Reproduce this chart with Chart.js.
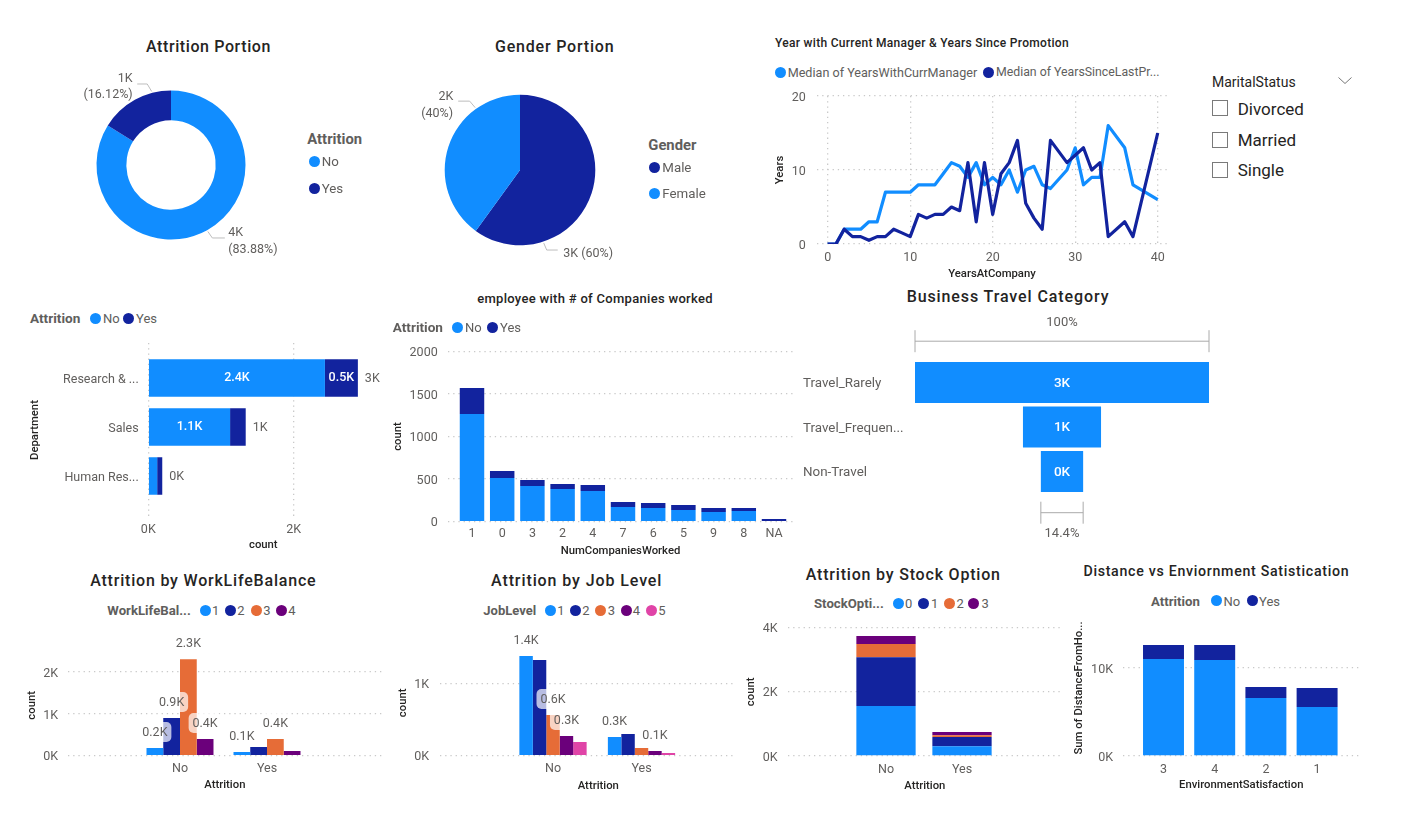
<!DOCTYPE html>
<html>
<head>
<meta charset="utf-8">
<script src="https://cdn.jsdelivr.net/npm/chart.js@4"></script>
<style>
html,body{margin:0;padding:0;background:#fff;width:1416px;height:817px;overflow:hidden}
canvas{position:absolute}
.t{position:absolute;white-space:nowrap;line-height:1}
.dot{position:absolute;width:11px;height:11px;border-radius:50%}
.box{position:absolute;width:16px;height:16px;border:1px solid #7a7a7a;box-sizing:border-box}
</style>
</head>
<body>
<script>
// ---------- data ----------
const attritionLabels = ['No', 'Yes'];
const attritionCounts = [3699, 711];
const genderLabels = ['Male', 'Female'];
const genderCounts = [2646, 1764];

const yearsAtCompany = [0,1,2,3,4,5,6,7,8,9,10,11,12,13,14,15,16,17,18,19,20,21,22,23,24,25,26,27,29,30,31,32,33,34,36,37,40];
const yearsWithManager = [0,0,2,2,2,3,3,7,7,7,7,8,8,8,9.5,11,10.5,9,11,8,9,8,10,7,10,10.5,8,7.5,10,13,8,9,9,16,13,8,6];
const yearsSincePromotion = [0,0,2,1,1,0.5,1,1,2,1.5,1,4,3.5,4,4,5,4.5,11,3,11,4,9.5,11,14,5.5,3.5,2,14,11,12,13,10,11,1,3,1,15];

const departments = ['Research & ...', 'Sales', 'Human Res...'];
const deptNo = [2430, 1125, 122];
const deptYes = [453, 215, 70];

const companiesWorked = ['1','0','3','2','4','7','6','5','9','8','NA'];
const companiesNo = [1264, 513, 419, 384, 360, 172, 160, 137, 113, 125, 8];
const companiesYes = [305, 82, 70, 58, 70, 59, 59, 59, 47, 35, 23];

const travelLabels = ['Travel_Rarely', 'Travel_Frequen...', 'Non-Travel'];
const travelCounts = [3129, 831, 450];

const attritionAxis = ['No', 'Yes'];
const wlbKeys = ['1','2','3','4'];
const wlb1 = [183, 88];
const wlb2 = [900, 207];
const wlb3 = [2310, 398];
const wlb4 = [398, 112];

const jobKeys = ['1','2','3','4','5'];
const job1 = [1384, 259];
const job2 = [1329, 301];
const job3 = [565, 106];
const job4 = [273, 65];
const job5 = [190, 37];

const stockKeys = ['0','1','2','3'];
const stock0 = [1560, 305];
const stock1 = [1515, 285];
const stock2 = [415, 60];
const stock3 = [250, 95];

const satisfaction = ['3','4','2','1'];
const distanceNo = [11023, 10909, 6591, 5568];
const distanceYes = [1591, 1705, 1250, 2159];

const maritalStatus = ['Divorced', 'Married', 'Single'];

// ---------- style ----------
const C = {blue:'#118DFF', navy:'#12239E', orange:'#E66C37', purple:'#6B007B', pink:'#E044A7'};
const BODY = 'Roboto, sans-serif';
const HEAD = 'Roboto, sans-serif';
const GREY = '#605E5C', DARK = '#252423', GRID = '#c9c9c9';
Chart.defaults.font.family = BODY;
Chart.defaults.font.size = 12.5;
Chart.defaults.color = GREY;
Chart.defaults.animation = false;
Chart.defaults.responsive = false;
Chart.defaults.plugins.legend.display = false;
Chart.defaults.plugins.tooltip.enabled = false;

const kTick = v => (v / 1000) + 'K';
const kOne = v => (v / 1000).toFixed(1) + 'K';
const kRound = v => Math.round(v / 1000) + 'K';
const sum = a => a.reduce((x, y) => x + y, 0);
const pts = (vals, horizontal) => vals.map((v, i) => horizontal ? {x: v, y: i} : {x: i, y: v});

function txt(s, x, y, o) {
  o = o || {};
  const d = document.createElement('div');
  d.className = 't';
  d.textContent = s;
  const tx = o.align === 'c' ? '-50%' : o.align === 'r' ? '-100%' : '0';
  d.style.cssText = `left:${x}px;top:${y}px;transform:translate(${tx},-50%);font:${o.weight||400} ${o.size||12.5}px ${o.font||BODY};color:${o.color||GREY};letter-spacing:${o.ls||0}px`;
  document.body.appendChild(d);
}
function title(s, x, y, size, ls) { txt(s, x, y, {align:'c', size:size||16, weight:500, font:HEAD, color:DARK, ls:ls===undefined?0.7:ls}); }
function dot(x, y, c) {
  const d = document.createElement('div');
  d.className = 'dot';
  d.style.left = (x - 5.5) + 'px'; d.style.top = (y - 5.5) + 'px'; d.style.background = c;
  document.body.appendChild(d);
}
function legend(name, nameX, y, labels, colors, dotXs, textXs, nameSize) {
  txt(name, nameX, y, {weight:700, font:HEAD, size:nameSize||13.2, color:GREY});
  labels.forEach((l, i) => { dot(dotXs[i], y, colors[i]); txt(l, textXs[i], y, {size:13}); });
}

// Place a canvas so that the plot area and native axis titles land where wanted.
function place(type, datasets, plot, o) {
  const L = Math.floor(o.yTitleX !== undefined ? o.yTitleX - 6.5 : plot.l - (o.leftRoom || 70));
  const B = Math.ceil(o.xTitleY !== undefined ? o.xTitleY + 6.5 : plot.b + (o.bottomRoom || 30));
  const T = Math.floor(plot.t - (o.topRoom || 26));
  const R = Math.ceil(plot.r + (o.rightRoom || 26));
  const cv = document.createElement('canvas');
  cv.width = R - L; cv.height = B - T;
  cv.style.left = L + 'px'; cv.style.top = T + 'px';
  document.body.appendChild(cv);
  const xs = Object.assign({}, o.x), ys = Object.assign({}, o.y);
  if (xs.display !== false) xs.afterFit = s => { s.height = B - plot.b; };
  if (ys.display !== false) ys.afterFit = s => { s.width = plot.l - L; };
  if (ys.ticks) ys.ticks = Object.assign({}, ys.ticks, {labelOffset:1.5});
  return new Chart(cv, {
    type,
    data: {labels: o.labels, datasets},
    options: {
      indexAxis: o.indexAxis || 'x',
      layout: {autoPadding:false, padding:{top: plot.t - T, right: R - plot.r, left: ys.display === false ? plot.l - L : 0, bottom: xs.display === false ? B - plot.b : 0}},
      scales: {x: xs, y: ys}
    },
    plugins: o.plugins || []
  });
}
function grid(on) {
  return on ? {display:true, color:GRID, lineWidth:1.3, drawTicks:false} : {display:false, drawTicks:false};
}
const noBorder = {display:false, dash:[1.3,3.9]};
function axisTitle(t, size) { return t ? {display:true, text:t, color:DARK, padding:0, font:{size:size||11.3, weight:'500', family:HEAD}} : {display:false}; }
// numeric value axis
function valueAxis(min, max, ticks, cb, t, pad, gridOn) {
  return {type:'linear', offset:false, min, max, grid:Object.assign(grid(gridOn!==false),{offset:false}), border:noBorder, title:axisTitle(t),
    afterBuildTicks:s=>{s.ticks=ticks.map(v=>({value:v}));},
    ticks:{padding:pad, callback:cb, autoSkip:false, maxRotation:0, font:{size:12.5}}};
}
// band axis: categories on indexes, centred and spaced to suit the report layout
function bandAxis(names, lo, hi, pitch, first, t, pad, reverse) {
  const min = -(first - lo) / pitch;
  const max = min + (hi - lo) / pitch;
  const ticks = names.map((_, i) => i);
  return {type:'linear', reverse:!!reverse, offset:false, min, max, grid:Object.assign(grid(false),{offset:false}), border:{display:false}, title:axisTitle(t),
    afterBuildTicks:s=>{s.ticks=ticks.map(v=>({value:v}));},
    ticks:{padding:pad, callback:v=>names[v], autoSkip:false, maxRotation:0, font:{size:12.5}}};
}
function bars(vals, color, extra, horizontal) {
  return Object.assign({data:pts(vals, horizontal), backgroundColor:color, borderWidth:0, categoryPercentage:0.8, barPercentage:1}, extra||{});
}

// Labels above grouped columns, on a pale rounded chip like the report's
function aboveLabels(show) {
  return {id:'above', afterDatasetsDraw(c) {
    const g = c.ctx; g.save();
    g.font = '12.5px ' + BODY; g.textAlign = 'center'; g.textBaseline = 'middle';
    Object.keys(show).forEach(k => {
      const meta = c.getDatasetMeta(+k);
      show[k].forEach(i => {
        const e = meta.data[i], v = c.data.datasets[+k].data[i].y, y = e.y - 16;
        g.fillStyle = 'rgba(255,255,255,0.7)';
        g.beginPath(); g.roundRect(e.x - 16.5, y - 10, 33, 20, 5); g.fill();
        g.fillStyle = GREY; g.fillText(kOne(v), e.x, y + 0.5);
      });
    });
    g.restore();
  }};
}
function deptLabels() {
  return {id:'dept', afterDatasetsDraw(c) {
    const g = c.ctx; g.save();
    g.font = '500 12.5px ' + BODY; g.textBaseline = 'middle'; g.textAlign = 'center'; g.fillStyle = '#fff';
    const [a, b] = [c.getDatasetMeta(0), c.getDatasetMeta(1)];
    const put = (e, v) => g.fillText(kOne(v), (e.x + e.base) / 2, e.y);
    put(a.data[0], deptNo[0]); put(a.data[1], deptNo[1]); put(b.data[0], deptYes[0]);
    g.font = '12.5px ' + BODY; g.textAlign = 'left'; g.fillStyle = GREY;
    b.data.forEach((e, i) => g.fillText(kRound(deptNo[i] + deptYes[i]), e.x + 7, e.y + 1));
    g.restore();
  }};
}
function funnelMarks() {
  return {id:'funnel', afterDatasetsDraw(c) {
    const g = c.ctx, xs = c.scales.x, area = c.chartArea, meta = c.getDatasetMeta(0);
    g.save();
    g.font = '500 13.5px ' + BODY; g.textBaseline = 'middle'; g.textAlign = 'center'; g.fillStyle = '#fff';
    meta.data.forEach((e, i) => g.fillText(kRound(travelCounts[i]), (e.x + e.base) / 2, e.y + 1));
    const bracket = (v, y, ty, label) => {
      const a = xs.getPixelForValue(-v / 2), b = xs.getPixelForValue(v / 2);
      g.strokeStyle = '#aaaaaa'; g.lineWidth = 1;
      g.beginPath();
      g.moveTo(a, y); g.lineTo(b, y);
      g.moveTo(a, y - 11); g.lineTo(a, y + 11);
      g.moveTo(b, y - 11); g.lineTo(b, y + 11);
      g.stroke();
      g.fillStyle = GREY; g.font = '13px ' + BODY;
      g.fillText(label, (a + b) / 2, ty);
    };
    const top = travelCounts[0], last = travelCounts[travelCounts.length - 1];
    bracket(top, area.top - 19, area.top - 37, '100%');
    bracket(last, area.bottom + 19, area.bottom + 40, (last / top * 100).toFixed(1) + '%');
    g.restore();
  }};
}
// Leader lines leave the pie at a given angle, then bend and run horizontally
function leaders(list) {
  return {id:'leaders', afterDatasetsDraw(c) {
    const g = c.ctx, e = c.getDatasetMeta(0).data[0];
    g.save(); g.strokeStyle = '#bdbdbd'; g.lineWidth = 1;
    list.forEach(l => {
      const r = (l.deg) * Math.PI / 180, R = e.outerRadius + 1.5;
      const x = e.x + R * Math.sin(r), y = e.y - R * Math.cos(r);
      g.beginPath(); g.moveTo(x, y); g.lineTo(x + l.dx, y + l.dy); g.lineTo(x + l.dx + l.run, y + l.dy); g.stroke();
    });
    g.restore();
  }};
}
function pie(vals, colors, cx, cy, r, cut, lead) {
  const S = 2 * Math.ceil(r + 30), cv = document.createElement('canvas');
  cv.width = S; cv.height = S;
  cv.style.left = Math.round(cx - S / 2) + 'px'; cv.style.top = Math.round(cy - S / 2) + 'px';
  document.body.appendChild(cv);
  new Chart(cv, {type:'doughnut', data:{datasets:[{data:vals, backgroundColor:colors, borderWidth:0}]},
    options:{cutout:cut, radius:r, layout:{padding:0}}, plugins:[leaders(lead)]});
}

// ---------- Attrition Portion ----------
title('Attrition Portion', 208.5, 46, 16, 0.6);
pie(attritionCounts, [C.blue, C.navy], 171, 165, 74.5, '60%', [{deg:-14.7,dx:-4.5,dy:-7.5,run:-10},{deg:151,dx:4.5,dy:6.5,run:12.5}]);
txt(kRound(attritionCounts[1]), 132.7, 76.7, {align:'r'});
txt('(' + (attritionCounts[1] / sum(attritionCounts) * 100).toFixed(2) + '%)', 132.7, 93.3, {align:'r'});
txt(kRound(attritionCounts[0]), 228.3, 231);
txt('(' + (attritionCounts[0] / sum(attritionCounts) * 100).toFixed(2) + '%)', 228.3, 248);
txt('Attrition', 307.3, 139.3, {weight:700, font:HEAD, size:14.8});
dot(314, 161, C.blue); txt(attritionLabels[0], 321.7, 161, {size:13.3});
dot(314, 188.3, C.navy); txt(attritionLabels[1], 321.7, 188.3, {size:13.3});

// ---------- Gender Portion ----------
title('Gender Portion', 554.7, 46, 16, 0.8);
pie(genderCounts, [C.navy, C.blue], 520, 170, 75.3, 0, [{deg:-35.7,dx:-5.5,dy:-6.5,run:-11.5},{deg:162,dx:3,dy:7,run:11}]);
txt(kRound(genderCounts[1]), 453.3, 95, {align:'r'});
txt('(' + Math.round(genderCounts[1] / sum(genderCounts) * 100) + '%)', 453, 112.3, {align:'r'});
txt(kRound(genderCounts[0]) + ' (' + Math.round(genderCounts[0] / sum(genderCounts) * 100) + '%)', 563.3, 251.7);
txt('Gender', 648.3, 145.3, {weight:700, font:HEAD, size:14.8});
dot(654.3, 167.3, C.navy); txt(genderLabels[0], 662.3, 167.3, {size:13.3});
dot(654.3, 193.3, C.blue); txt(genderLabels[1], 662.3, 193.3, {size:13.3});

// ---------- Line chart ----------
txt('Year with Current Manager & Years Since Promotion', 775, 43.3, {weight:500, font:HEAD, size:12, color:DARK, ls:0.3});
dot(780.7, 72.3, C.blue); txt('Median of YearsWithCurrManager', 787.7, 72.3, {size:12.6});
dot(988.7, 72.3, C.navy); txt('Median of YearsSinceLastPr...', 996, 72.3, {size:12.3});
place('line', [
  {data:yearsAtCompany.map((x,i)=>({x, y:yearsSincePromotion[i]})), borderColor:C.navy, borderWidth:3.2, pointRadius:0, tension:0, borderJoinStyle:'round'},
  {data:yearsAtCompany.map((x,i)=>({x, y:yearsWithManager[i]})), borderColor:C.blue, borderWidth:3.2, pointRadius:0, tension:0, borderJoinStyle:'round'}
], {l:816.7, t:96, r:1167.3, b:244}, {yTitleX:780, xTitleY:274,
  x:valueAxis(-1.33, 41.16, [0,10,20,30,40], v=>v, 'YearsAtCompany', 6),
  y:valueAxis(0, 20, [0,10,20], v=>v, 'Years', 11)
});

// ---------- Marital status slicer ----------
txt('MaritalStatus', 1212, 81.7, {size:14, color:'#252423'});
maritalStatus.forEach((m, i) => {
  const y = [108.5, 140, 170][i];
  const b = document.createElement('div'); b.className = 'box';
  b.style.left = '1212px'; b.style.top = Math.round(y - 8.5) + 'px';
  document.body.appendChild(b);
  txt(m, 1237.7, y, {size:17, color:'#252423'});
});
const ch = document.createElementNS('http://www.w3.org/2000/svg', 'svg');
ch.setAttribute('width', '14'); ch.setAttribute('height', '7');
ch.style.cssText = 'position:absolute;left:1338px;top:77px';
ch.innerHTML = '<polyline points="0.5,0.5 7,6.5 13.5,0.5" fill="none" stroke="#777" stroke-width="1"/>';
document.body.appendChild(ch);

// ---------- Department ----------
legend('Attrition', 30, 318, attritionLabels, [C.blue, C.navy], [95, 128], [103, 136], 13.6);
place('bar', [
  bars(deptNo, C.blue, {stack:'s', categoryPercentage:0.77}, true),
  bars(deptYes, C.navy, {stack:'s', categoryPercentage:0.77}, true)
], {l:148.3, t:343, r:378.3, b:517}, {indexAxis:'y', yTitleX:35, xTitleY:545,
  x:Object.assign(valueAxis(0, 3164, [0,2000], kTick, 'count', 5), {stacked:true}),
  y:Object.assign(bandAxis(departments, 343, 517, 49, 378, 'Department', 9.6, true), {stacked:true}),
  plugins:[deptLabels()]
});

// ---------- Companies ----------
title('employee with # of Companies worked', 595, 298, 13, 0.3);
legend('Attrition', 392.7, 327.3, attritionLabels, [C.blue, C.navy], [457, 492.3], [465, 500], 13.6);
place('bar', [
  bars(companiesNo, C.blue, {stack:'s', categoryPercentage:0.81}),
  bars(companiesYes, C.navy, {stack:'s', categoryPercentage:0.81})
], {l:447.7, t:351.3, r:793.3, b:521.7}, {yTitleX:398, xTitleY:551,
  x:Object.assign(bandAxis(companiesWorked, 447.7, 793.3, 30.2, 472, 'NumCompaniesWorked', 5), {stacked:true}),
  y:Object.assign(valueAxis(0, 2000, [0,500,1000,1500,2000], v=>v, 'count', 10), {stacked:true})
});

// ---------- Funnel ----------
title('Business Travel Category', 1008, 296, 16, 0.9);
place('bar', [
  {data:travelCounts.map(v=>[-v/2, v/2]), backgroundColor:C.blue, borderWidth:0, categoryPercentage:1, barPercentage:0.92}
], {l:915, t:360.2, r:1209, b:493.7}, {indexAxis:'y', leftRoom:112, topRoom:50, bottomRoom:50, rightRoom:10, labels:travelLabels,
  x:{type:'linear', display:false, min:-travelCounts[0]/2, max:travelCounts[0]/2},
  y:{type:'category', grid:grid(false), border:{display:false}, ticks:{crossAlign:'far', padding:0, font:{size:13.4}, autoSkip:false}},
  plugins:[funnelMarks()]
});

// ---------- WorkLifeBalance ----------
title('Attrition by WorkLifeBalance', 203.3, 580, 16, 0.8);
legend('WorkLifeBal...', 107.3, 610.3, wlbKeys, [C.blue, C.navy, C.orange, C.purple], [205.3, 230.7, 256, 281.7], [212, 237.3, 263.3, 288.3], 13.2);
place('bar', [
  bars(wlb1, C.blue, {categoryPercentage:0.77}), bars(wlb2, C.navy, {categoryPercentage:0.77}),
  bars(wlb3, C.orange, {categoryPercentage:0.77}), bars(wlb4, C.purple, {categoryPercentage:0.77})
], {l:68, t:655, r:381.7, b:755.7}, {yTitleX:32, xTitleY:785,
  x:bandAxis(attritionAxis, 68, 381.7, 87, 180, 'Attrition', 6),
  y:valueAxis(0, 2409, [0,1000,2000], kTick, 'count', 10),
  plugins:[aboveLabels({0:[0,1], 1:[0], 2:[0,1], 3:[0]})]
});

// ---------- Job Level ----------
title('Attrition by Job Level', 576.7, 580, 16, 0.9);
legend('JobLevel', 483.3, 610.3, jobKeys, [C.blue, C.navy, C.orange, C.purple, C.pink], [550, 575, 600.3, 626, 651.3], [557.3, 582.3, 607.7, 632.7, 658.3], 13);
place('bar', [
  bars(job1, C.blue, {categoryPercentage:0.76}), bars(job2, C.navy, {categoryPercentage:0.76}), bars(job3, C.orange, {categoryPercentage:0.76}),
  bars(job4, C.purple, {categoryPercentage:0.76}), bars(job5, C.pink, {categoryPercentage:0.76})
], {l:440, t:650, r:733.3, b:755.7}, {yTitleX:403, bottomRoom:36,
  x:bandAxis(attritionAxis, 440, 733.3, 88.5, 553, null, 6),
  y:valueAxis(0, 1468, [0,1000], kTick, 'count', 11),
  plugins:[aboveLabels({0:[0,1], 2:[0], 3:[0,1]})]
});
txt('Attrition', 598.3, 785, {align:'c', size:11.3, weight:500, font:HEAD, color:DARK});

// ---------- Stock Option ----------
title('Attrition by Stock Option', 903.3, 574, 16, 0.8);
legend('StockOpti...', 814, 603, stockKeys, [C.blue, C.navy, C.orange, C.purple], [898, 923.5, 949, 973.6], [905, 931, 956.5, 981.5], 13.2);
place('bar', [0,1,2,3].map(i => bars([stock0,stock1,stock2,stock3][i], [C.blue,C.navy,C.orange,C.purple][i], {stack:'s', categoryPercentage:0.78})),
  {l:787.6, t:627.7, r:1062, b:756}, {yTitleX:750.5, xTitleY:786,
  x:Object.assign(bandAxis(attritionAxis, 787.6, 1062, 76, 886, 'Attrition', 6), {stacked:true}),
  y:Object.assign(valueAxis(0, 4000, [0,2000,4000], kTick, 'count', 10), {stacked:true})
});

// ---------- Environment ----------
title('Distance vs Enviornment Satistication', 1216.4, 571, 14.2, 0.7);
legend('Attrition', 1151, 600.7, attritionLabels, [C.blue, C.navy], [1216, 1252], [1223.6, 1259], 13.2);
place('bar', [
  bars(distanceNo, C.blue, {stack:'s', categoryPercentage:0.8}),
  bars(distanceYes, C.navy, {stack:'s', categoryPercentage:0.8})
], {l:1123, t:620, r:1359.5, b:756}, {yTitleX:1079, xTitleY:785.3,
  x:Object.assign(bandAxis(satisfaction, 1123, 1359.5, 51.2, 1163.5, 'EnvironmentSatisfaction', 6), {stacked:true}),
  y:Object.assign(valueAxis(0, 15454, [0,10000], kTick, 'Sum of DistanceFromHo...', 10), {stacked:true})
});
</script>
</body>
</html>
